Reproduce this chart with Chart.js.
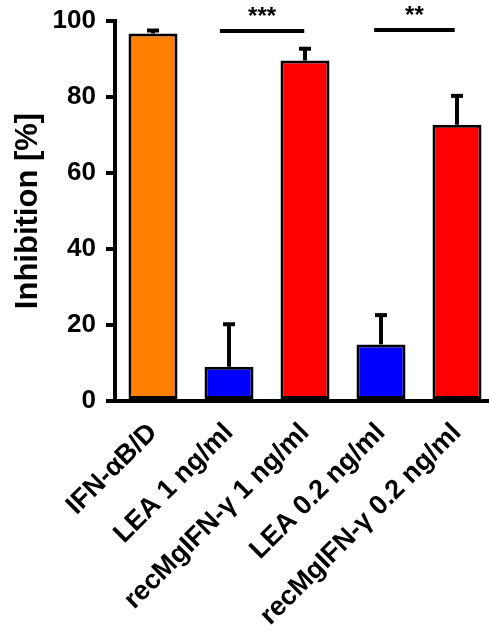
<!DOCTYPE html>
<html>
<head>
<meta charset="utf-8">
<script src="https://cdn.jsdelivr.net/npm/chart.js@4/dist/chart.umd.min.js"></script>
<style>
html,body{margin:0;padding:0;background:#fff;overflow:hidden;}
#wrap{width:495px;height:638px;}
</style>
</head>
<body>
<div id="wrap"><canvas id="c" width="495" height="638"></canvas></div>
<script>
const categories = ["IFN-\u03b1B/D", "LEA 1 ng/ml", "recMgIFN-\u03b3 1 ng/ml", "LEA 0.2 ng/ml", "recMgIFN-\u03b3 0.2 ng/ml"];
const values = [96.7, 9.0, 89.6, 14.9, 72.7];
const errors = [0.8, 11.2, 3.1, 7.7, 7.6];
const barColors = ["#FF8000", "#0000FF", "#FF0000", "#0000FF", "#FF0000"];
const yTicks = [0, 20, 40, 60, 80, 100];
const sigLabels = ["***", "**"];
const sigFrom = [0.88, 2.91];
const sigTo = [1.99, 3.97];
const sigLevel = [97.4, 97.6];

const FONT = "'Liberation Sans', Arial, sans-serif";

const overlay = {
  id: 'overlay',
  afterDatasetsDraw(chart) {
    const ctx = chart.ctx;
    const xs = chart.scales.x, ys = chart.scales.y;
    ctx.save();
    ctx.strokeStyle = '#000';
    ctx.lineWidth = 4;
    ctx.lineCap = 'butt';
    values.forEach((v, i) => {
      const x = xs.getPixelForValue(i);
      const y0 = ys.getPixelForValue(v);
      const y1 = ys.getPixelForValue(v + errors[i]);
      ctx.beginPath();
      ctx.moveTo(x, y0);
      ctx.lineTo(x, y1);
      ctx.stroke();
      ctx.beginPath();
      ctx.moveTo(x - 6, y1);
      ctx.lineTo(x + 6, y1);
      ctx.stroke();
    });
    sigLabels.forEach((s, i) => {
      const xa = xs.getPixelForValue(sigFrom[i]);
      const xb = xs.getPixelForValue(sigTo[i]);
      const y = ys.getPixelForValue(sigLevel[i]);
      ctx.beginPath();
      ctx.moveTo(xa, y);
      ctx.lineTo(xb, y);
      ctx.stroke();
      ctx.fillStyle = '#000';
      ctx.font = "bold 24px " + FONT;
      ctx.textAlign = 'center';
      ctx.textBaseline = 'alphabetic';
      ctx.fillText(s, (xa + xb) / 2, y - 7);
    });
    ctx.restore();
  }
};

new Chart(document.getElementById('c'), {
  type: 'bar',
  data: {
    labels: categories,
    datasets: [{
      data: values,
      backgroundColor: barColors,
      borderColor: '#000',
      borderWidth: 3,
      borderSkipped: false,
      barPercentage: 0.645,
      categoryPercentage: 1.0
    }]
  },
  options: {
    responsive: false,
    animation: false,
    layout: { padding: { top: 21, left: 0, right: 0, bottom: 0 } },
    plugins: { legend: { display: false }, tooltip: { enabled: false } },
    scales: {
      x: {
        grid: { display: false, drawTicks: false },
        border: { display: true, color: '#000', width: 4 },
        ticks: {
          color: '#000',
          font: { family: FONT, size: 27, weight: 'bold' },
          minRotation: 45, maxRotation: 45, autoSkip: false, padding: 16
        },
        afterFit(s) { s.height = 638 - 401; s.paddingLeft = 0; s.paddingRight = 0; }
      },
      y: {
        min: 0, max: 100,
        afterBuildTicks(s) { s.ticks = yTicks.map(v => ({ value: v })); },
        grid: { display: true, drawOnChartArea: false, drawTicks: true, tickLength: 9, tickWidth: 4, color: '#000', lineWidth: 4 },
        border: { display: true, color: '#000', width: 4 },
        ticks: {
          color: '#000',
          font: { family: FONT, size: 26, weight: 'bold' },
          padding: 10
        },
        title: {
          display: true,
          text: 'Inhibition [%]',
          color: '#000',
          font: { family: FONT, size: 31, weight: 'bold' },
          padding: { top: 10, bottom: 4 }
        },
        afterFit(s) { s.width = 115; s.paddingTop = 0; s.paddingBottom = 0; }
      }
    }
  },
  plugins: [overlay]
});
</script>
</body>
</html>
